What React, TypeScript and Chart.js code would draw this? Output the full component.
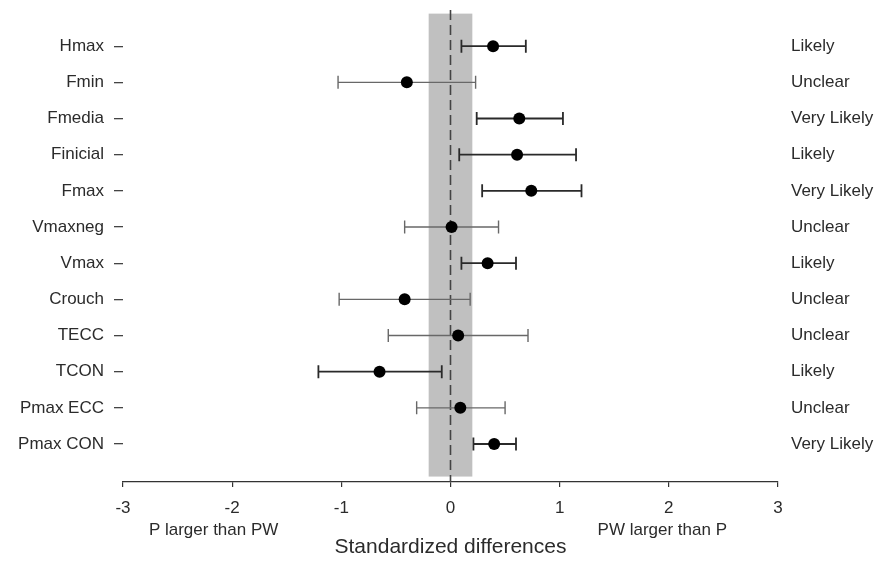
import { useEffect, useRef } from "react";
import { Chart, registerables } from "chart.js";

Chart.register(...registerables);

const categories = ["Hmax", "Fmin", "Fmedia", "Finicial", "Fmax", "Vmaxneg", "Vmax", "Crouch", "TECC", "TCON", "Pmax ECC", "Pmax CON"];
const estimates = [0.39, -0.40, 0.63, 0.61, 0.74, 0.01, 0.34, -0.42, 0.07, -0.65, 0.09, 0.40];
const lowerCI = [0.10, -1.03, 0.24, 0.08, 0.29, -0.42, 0.10, -1.02, -0.57, -1.21, -0.31, 0.21];
const upperCI = [0.69, 0.23, 1.03, 1.15, 1.20, 0.44, 0.60, 0.18, 0.71, -0.08, 0.50, 0.60];
const likelihood = ["Likely", "Unclear", "Very Likely", "Likely", "Very Likely", "Unclear", "Likely", "Unclear", "Unclear", "Likely", "Unclear", "Very Likely"];
const xTicks = [-3, -2, -1, 0, 1, 2, 3];
const trivialBand = [-0.2, 0.2];
const bandRows = [-0.9, 11.9];
const directionLabels = ["P larger than PW", "PW larger than P"];
const directionX = [-2.17, 1.94];
const xTitle = "Standardized differences";

const FAMILY = "'Liberation Sans', Arial, Helvetica, sans-serif";
const TEXT = "#2b2b2b";

const forestPlugin = {
  id: "forest",
  beforeDatasetsDraw(chart: any) {
    const { ctx, chartArea, scales } = chart;
    const x = scales.x;
    const y = scales.y;
    ctx.save();
    const bx0 = x.getPixelForValue(trivialBand[0]);
    const bx1 = x.getPixelForValue(trivialBand[1]);
    const by0 = y.getPixelForValue(bandRows[0]);
    const by1 = y.getPixelForValue(bandRows[1]);
    ctx.fillStyle = "#c0c0c0";
    ctx.fillRect(bx0, by0, bx1 - bx0, by1 - by0);
    const zx = x.getPixelForValue(0);
    ctx.strokeStyle = "#444";
    ctx.lineWidth = 1.6;
    ctx.setLineDash([10, 5]);
    ctx.beginPath();
    ctx.moveTo(zx, chartArea.top);
    ctx.lineTo(zx, chartArea.bottom);
    ctx.stroke();
    ctx.setLineDash([]);
    categories.forEach((_, i) => {
      const py = y.getPixelForValue(i);
      const l = x.getPixelForValue(lowerCI[i]);
      const u = x.getPixelForValue(upperCI[i]);
      const unclear = likelihood[i] === "Unclear";
      ctx.strokeStyle = unclear ? "#686868" : "#2a2a2a";
      ctx.lineWidth = unclear ? 1.4 : 1.8;
      ctx.beginPath();
      ctx.moveTo(l, py);
      ctx.lineTo(u, py);
      ctx.moveTo(l, py - 6.5);
      ctx.lineTo(l, py + 6.5);
      ctx.moveTo(u, py - 6.5);
      ctx.lineTo(u, py + 6.5);
      ctx.stroke();
    });
    ctx.restore();
  },
  afterDraw(chart: any) {
    const { ctx, scales } = chart;
    const x = scales.x;
    ctx.save();
    ctx.font = `17px ${FAMILY}`;
    ctx.fillStyle = TEXT;
    ctx.textAlign = "center";
    ctx.textBaseline = "middle";
    directionLabels.forEach((t, i) => {
      ctx.fillText(t, x.getPixelForValue(directionX[i]), x.top + 48);
    });
    ctx.restore();
  },
};

export default function App() {
  const ref = useRef<HTMLCanvasElement | null>(null);

  useEffect(() => {
    if (!ref.current) return;
    const chart = new Chart(ref.current, {
      type: "scatter",
      data: {
        datasets: [
          {
            data: categories.map((_, i) => ({ x: estimates[i], y: i })),
            yAxisID: "y",
            xAxisID: "x",
            backgroundColor: "#000",
            borderColor: "#000",
            pointRadius: 6,
            pointHoverRadius: 6,
            borderWidth: 0,
          },
        ],
      },
      options: {
        responsive: false,
        animation: false,
        layout: { padding: { top: 10, left: 0, right: 0, bottom: 0 } },
        plugins: { legend: { display: false }, tooltip: { enabled: false } },
        scales: {
          x: {
            type: "linear",
            position: "bottom",
            min: -3,
            max: 3,
            afterFit: (s: any) => {
              s.height = 79;
            },
            afterBuildTicks: (s: any) => {
              s.ticks = xTicks.map((v) => ({ value: v }));
            },
            ticks: {
              callback: (v: any) => String(v),
              font: { size: 17, family: FAMILY },
              color: TEXT,
              padding: 11,
              maxRotation: 0,
              autoSkip: false,
            },
            grid: { drawOnChartArea: false, drawTicks: true, tickLength: 5, color: "#333", lineWidth: 1.2 },
            border: { display: true, color: "#333", width: 1.2 },
            title: {
              display: true,
              text: xTitle,
              font: { size: 21, family: FAMILY },
              color: TEXT,
              padding: { top: 0, bottom: 1 },
            },
          },
          y: {
            type: "linear",
            position: "left",
            min: -1,
            max: 12.05,
            reverse: true,
            afterFit: (s: any) => {
              s.width = 123;
              s.paddingTop = 0;
              s.paddingBottom = 0;
            },
            afterBuildTicks: (s: any) => {
              s.ticks = categories.map((_, i) => ({ value: i }));
            },
            ticks: {
              callback: (v: any) => categories[v],
              font: { size: 17, family: FAMILY },
              color: TEXT,
              padding: 10,
              autoSkip: false,
            },
            grid: { drawOnChartArea: false, drawTicks: true, tickLength: 9, color: "#444", lineWidth: 1.3 },
            border: { display: false },
          },
          y2: {
            type: "linear",
            position: "right",
            min: -1,
            max: 12.05,
            reverse: true,
            afterFit: (s: any) => {
              s.width = 107;
              s.paddingTop = 0;
              s.paddingBottom = 0;
            },
            afterBuildTicks: (s: any) => {
              s.ticks = likelihood.map((_, i) => ({ value: i }));
            },
            ticks: {
              callback: (v: any) => likelihood[v],
              font: { size: 17, family: FAMILY },
              color: TEXT,
              padding: 13,
              autoSkip: false,
            },
            grid: { display: false, drawOnChartArea: false, drawTicks: false },
            border: { display: false },
          },
        },
      } as any,
      plugins: [forestPlugin],
    });
    return () => chart.destroy();
  }, []);

  return (
    <canvas
      ref={ref}
      width={885}
      height={561}
      style={{ position: "fixed", left: 0, top: 0, width: 885, height: 561, background: "#fff" }}
    />
  );
}
